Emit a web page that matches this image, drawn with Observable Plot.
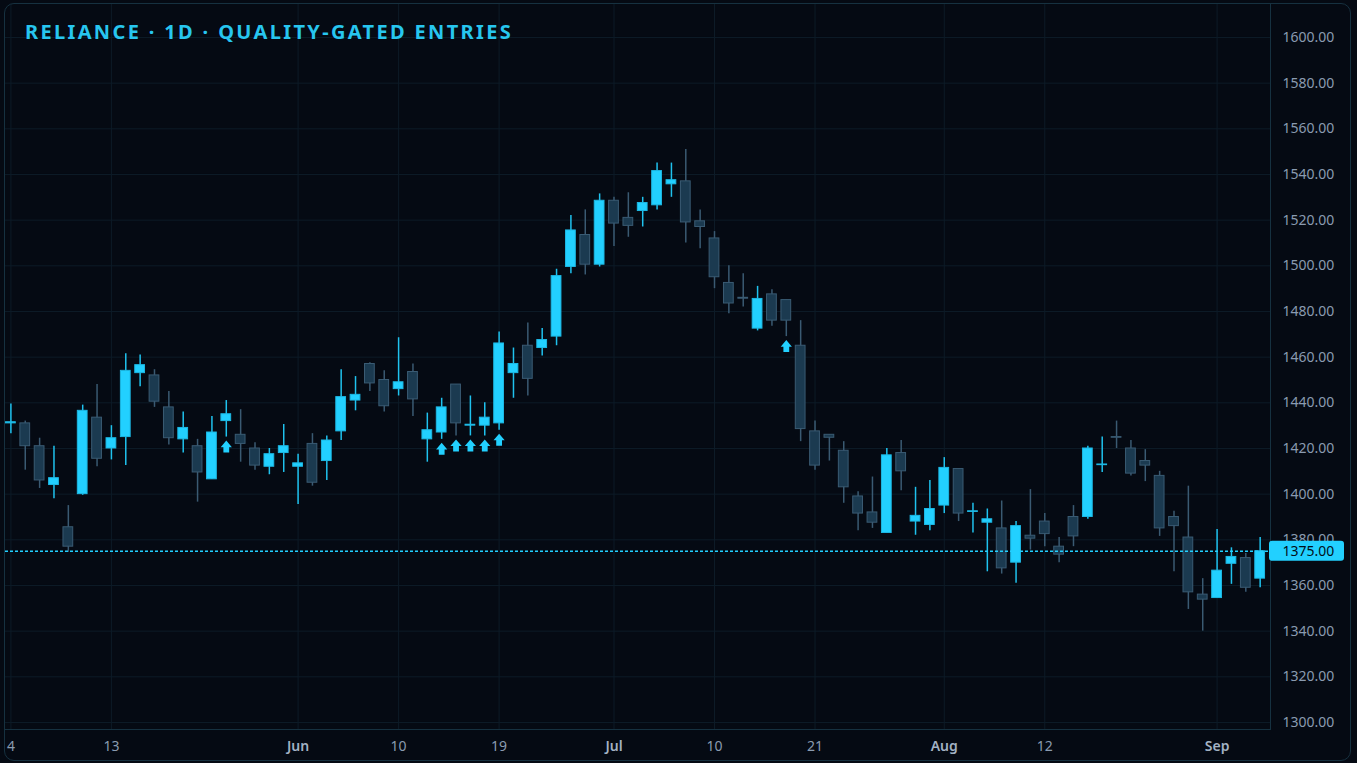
<!DOCTYPE html>
<html><head><meta charset="utf-8">
<script src="https://cdn.jsdelivr.net/npm/d3@7"></script>
<script src="https://cdn.jsdelivr.net/npm/@observablehq/plot@0.6"></script>
<style>
html,body{margin:0;padding:0;background:#050a13;}
#wrap{position:relative;width:1357px;height:763px;overflow:hidden;background:#050a13;}
#chart svg{display:block;}
#border{position:absolute;left:4px;top:3px;width:1347px;height:758px;border:1px solid #163140;border-radius:10px;pointer-events:none;box-sizing:border-box;}
#title{position:absolute;left:25px;top:22px;font:700 20px/20px "Noto Sans";letter-spacing:2.35px;color:#27c6ef;white-space:nowrap;}
</style></head>
<body><div id="wrap"><div id="chart"></div><div id="border"></div><div id="title">RELIANCE · 1D · QUALITY-GATED ENTRIES</div></div>
<script>
const opens  = [1431,1431,1421,1404,1385.5,1400,1433.5,1420,1425,1453,1452,1438,1424,1421,1406.5,1432,1426,1420,1412,1418,1412,1422,1414.5,1427.5,1441,1457,1450,1446,1453.5,1424,1427,1448,1430,1430,1431,1453,1465,1464,1469,1499.5,1513.5,1500.5,1528.5,1521,1524,1526.5,1535.7,1537,1519.5,1512,1492.5,1486,1472.5,1487.5,1485,1465,1427.5,1426,1419,1399,1392,1383,1418,1388,1386.5,1395,1411,1392.2,1387.5,1385,1370,1381.8,1388,1377,1390,1390,1412.7,1425,1420,1414.5,1408,1390,1381,1356,1354.5,1369.5,1372,1363];
const highs  = [1439.5,1432,1424.5,1421,1395,1439,1448,1430,1461.5,1461,1454.5,1445,1436,1424,1434,1441,1437,1422.5,1420,1430.5,1417.5,1426.5,1425.5,1454.5,1451.5,1457.5,1454,1468.5,1457,1435.5,1442,1448,1443,1440,1471,1464,1475,1472.5,1498.5,1522,1524.5,1531.5,1530,1532,1530,1545,1545,1551,1524.5,1515,1500,1496.5,1491,1489.5,1485,1476,1432,1426,1423,1401,1407.5,1420,1423.5,1403,1406,1416,1411,1396,1393.5,1397,1388,1402,1391.5,1381,1395,1421,1425,1432,1423.5,1419.5,1410,1392.5,1403.5,1363,1384.5,1376.5,1374,1381];
const lows   = [1426.5,1410.5,1402.5,1398,1374.5,1399.5,1412,1415,1412.5,1447,1438,1421.5,1418,1396.5,1406.5,1425,1414,1410.5,1408.5,1409.5,1395.5,1403.5,1406,1423.5,1436.5,1445,1436,1443,1434,1414,1424,1425.5,1425.5,1425.5,1428,1442,1443,1460.5,1465,1496.5,1496,1499.5,1508.5,1512.5,1517,1524.5,1530,1510,1507.5,1490,1479,1482,1471.5,1473.5,1469,1423,1410.5,1414.5,1396,1384,1385,1383,1401.5,1382,1384,1391.5,1388,1383,1366,1365,1361,1375.5,1377,1370,1377,1389,1409.5,1420,1408,1405.5,1381.5,1366,1349.5,1340,1354.5,1360.5,1357,1359];
const closes = [1431.5,1421,1406,1407,1377,1436.5,1415.5,1424.5,1454,1456.5,1440.5,1424.5,1429,1409.5,1427,1435,1422,1412.5,1417.5,1421,1413.5,1405,1423.5,1442.5,1443.5,1448.5,1438.5,1449,1441.5,1428,1438,1431,1430.4,1433.5,1466,1457,1450.5,1467.5,1495.5,1515.5,1500.5,1528.5,1518.5,1517.5,1527.5,1541.5,1537.5,1519,1517,1495,1483.5,1485.6,1485.5,1476,1476,1428.5,1412.5,1424.7,1403,1391.5,1387.5,1417,1410,1390.5,1393.5,1411.5,1391.5,1392.5,1389,1367.5,1386,1380.5,1382.5,1373.5,1381.5,1420,1413,1424.7,1409,1412.5,1385,1386,1357,1353.8,1366.5,1372.5,1359,1375];
const tickIndex  = [0,7,20,27,34,42,49,56,65,72,84];
const tickLabels = ["4","13","Jun","10","19","Jul","10","21","Aug","12","Sep"];
const monthTicks = [20,42,65,84];
const priceTicks = [1300,1320,1340,1360,1380,1400,1420,1440,1460,1480,1500,1520,1540,1560,1580,1600];
const signalBars = [15,30,31,32,33,34,54];
const lastPrice = 1375;

const BULL = "#22d0ff", BULL_EDGE = "#1db8e4", BULL_WICK = "#1fc2ee";
const BEAR = "#1b3a50", BEAR_EDGE = "#3a5b73", BEAR_WICK = "#3a5a72";
const GRID = "#0d1b27", LINE = "#163140", TXT = "#8a9bb0";

const bars = opens.map((o, i) => ({i, open: o, high: highs[i], low: lows[i], close: closes[i], up: closes[i] >= o}));
const signals = signalBars.map(i => bars[i]);
const labelOf = new Map(tickIndex.map((t, k) => [t, tickLabels[k]]));
const dayTicks = tickIndex.filter(t => !monthTicks.includes(t));
const HW = 0.34;

const arrowUp = {draw(ctx) {
  ctx.moveTo(0, -6); ctx.lineTo(5.6, 0.6); ctx.lineTo(2.9, 0.6); ctx.lineTo(2.9, 6);
  ctx.lineTo(-2.9, 6); ctx.lineTo(-2.9, 0.6); ctx.lineTo(-5.6, 0.6); ctx.closePath();
}};

const chart = Plot.plot({
  width: 1357, height: 763,
  marginLeft: 5, marginRight: 87, marginTop: 4, marginBottom: 34,
  style: {background: "transparent", fontFamily: "Noto Sans", fontSize: "14px", color: TXT},
  x: {type: "linear", domain: [-0.376, 87.72], axis: null},
  y: {type: "linear", domain: [1296.93, 1614.45], axis: null},
  marks: [
    Plot.ruleY(priceTicks, {stroke: GRID, strokeWidth: 1}),
    Plot.ruleX(tickIndex, {stroke: GRID, strokeWidth: 1}),
    Plot.frame({anchor: "right", stroke: LINE}),
    Plot.frame({anchor: "bottom", stroke: LINE}),
    Plot.ruleX(bars, {x: "i", y1: "low", y2: "high", stroke: d => d.up ? BULL_WICK : BEAR_WICK, strokeWidth: 1.5}),
    Plot.rect(bars, {x1: d => d.i - HW, x2: d => d.i + HW, y1: "open", y2: "close",
      fill: d => d.up ? BULL : BEAR, stroke: d => d.up ? BULL_EDGE : BEAR_EDGE, strokeWidth: 1}),
    Plot.ruleY([lastPrice], {stroke: BULL, strokeWidth: 1.5, strokeDasharray: "3,2"}),
    Plot.dot(signals, {x: "i", y: "low", dy: 9.5, symbol: arrowUp, r: 4, fill: BULL, stroke: "none"}),
    Plot.axisY({anchor: "right", ticks: priceTicks, tickSize: 0, tickPadding: 12, tickFormat: d => d.toFixed(2), fill: TXT, fontSize: 14, label: null}),
    Plot.axisX(dayTicks, {anchor: "bottom", tickSize: 0, tickPadding: 12, tickFormat: t => labelOf.get(t), fill: TXT, fontSize: 14, label: null}),
    Plot.axisX(monthTicks, {anchor: "bottom", tickSize: 0, tickPadding: 12, tickFormat: t => labelOf.get(t), fill: "#a3b2c4", fontWeight: 600, fontSize: 14, label: null}),
    Plot.text([lastPrice], {y: d => d, frameAnchor: "right", dx: 12, textAnchor: "start", text: d => d.toFixed(2), fill: "#03111a", fontSize: 14, ariaDescription: "price-tag"})
  ]
});
document.getElementById("chart").appendChild(chart);

// background tag behind the last-price label, placed from Plot's scales
const label = lastPrice.toFixed(2);
const tagText = Array.from(chart.querySelectorAll("text")).filter(t => t.textContent === label).pop();
if (tagText) {
  const tagG = tagText.closest("g") || tagText;
  const xr = chart.scale("x").range;
  const yy = chart.scale("y").apply(lastPrice);
  const rect = document.createElementNS("http://www.w3.org/2000/svg", "rect");
  rect.setAttribute("x", Math.max(...xr) - 1);
  rect.setAttribute("y", yy - 10);
  rect.setAttribute("width", 75);
  rect.setAttribute("height", 20);
  rect.setAttribute("rx", 3);
  rect.setAttribute("fill", BULL);
  tagG.parentNode.insertBefore(rect, tagG);
  tagG.parentNode.appendChild(tagG);
}
</script></body></html>
